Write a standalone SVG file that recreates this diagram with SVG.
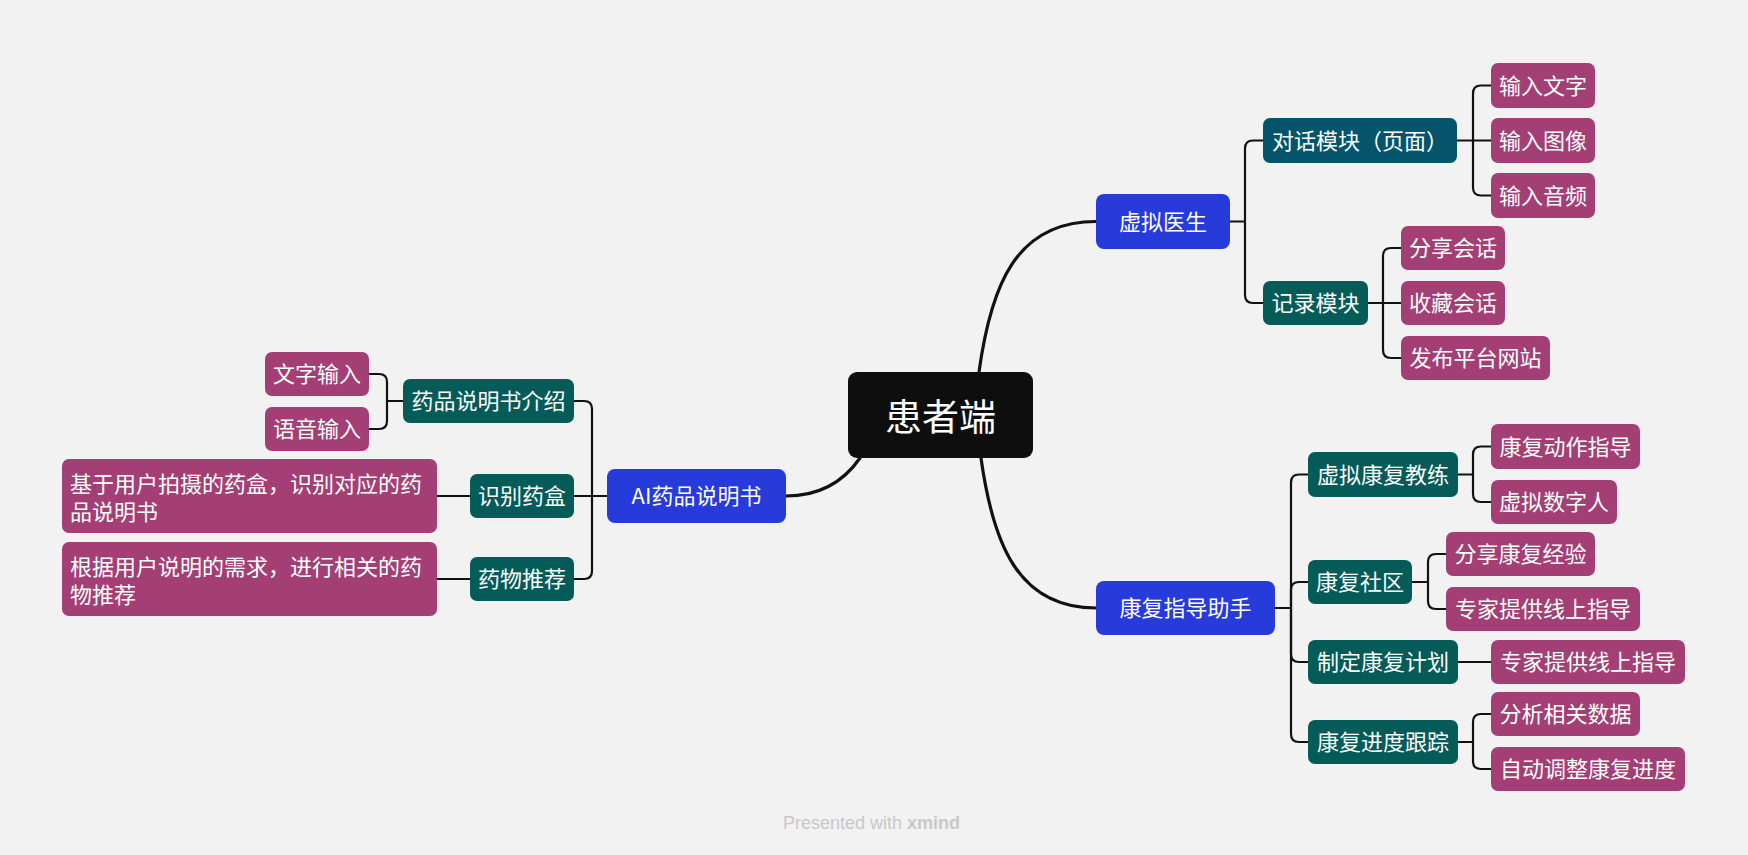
<svg xmlns="http://www.w3.org/2000/svg" width="1748" height="855" viewBox="0 0 1748 855">
<style>
.t{font-family:"Noto Sans CJK SC","Noto Sans",sans-serif;font-size:22px;fill:#ffffff}
.tc{font-family:"Noto Sans CJK SC","Noto Sans",sans-serif;font-size:37px;fill:#ffffff}
.b{fill:#273bdb}
.g{fill:#045b58}
.gb{fill:#04546b}
.m{fill:#a33f74}
.c{fill:#0e0e0e}
.ln{fill:none;stroke:#111111;stroke-width:2.2;stroke-linecap:round}
.lm{fill:none;stroke:#111111;stroke-width:3.2;stroke-linecap:round}
.ft{font-family:"Liberation Sans",Arial,sans-serif;font-size:18px;fill:#c8c8c8}
</style>
<rect x="0" y="0" width="1748" height="855" fill="#f2f2f2"/>
<g id="connectors">
<path class="lm" d="M979,372 C991,285 1016,221.5 1096,221.5"/>
<path class="lm" d="M981,458 C993,544 1018,608 1096,608"/>
<path class="lm" d="M860,458 C842,484 818,496 786,496"/>
<path class="ln" d="M1230,221.5 H1245"/>
<path class="ln" d="M1245,221.5 V148.5 Q1245,140.5 1253,140.5 H1263"/>
<path class="ln" d="M1245,221.5 V295 Q1245,303 1253,303 H1263"/>
<path class="ln" d="M1457,140.5 H1491"/>
<path class="ln" d="M1473,140.5 V93.5 Q1473,85.5 1481,85.5 H1491"/>
<path class="ln" d="M1473,140.5 V187.5 Q1473,195.5 1481,195.5 H1491"/>
<path class="ln" d="M1368,303 H1401"/>
<path class="ln" d="M1383,303 V256 Q1383,248 1391,248 H1401"/>
<path class="ln" d="M1383,303 V350 Q1383,358 1391,358 H1401"/>
<path class="ln" d="M1275,608 H1291"/>
<path class="ln" d="M1291,608 V482.5 Q1291,474.5 1299,474.5 H1308"/>
<path class="ln" d="M1291,608 V590 Q1291,582 1299,582 H1308"/>
<path class="ln" d="M1291,608 V654 Q1291,662 1299,662 H1308"/>
<path class="ln" d="M1291,608 V734 Q1291,742 1299,742 H1308"/>
<path class="ln" d="M1458,474.5 H1473"/>
<path class="ln" d="M1473,474.5 V454.5 Q1473,446.5 1481,446.5 H1491"/>
<path class="ln" d="M1473,474.5 V494 Q1473,502 1481,502 H1491"/>
<path class="ln" d="M1412,582 H1428"/>
<path class="ln" d="M1428,582 V562 Q1428,554 1436,554 H1446"/>
<path class="ln" d="M1428,582 V601 Q1428,609 1436,609 H1446"/>
<path class="ln" d="M1458,662 H1491"/>
<path class="ln" d="M1458,742 H1473"/>
<path class="ln" d="M1473,742 V722 Q1473,714 1481,714 H1491"/>
<path class="ln" d="M1473,742 V761 Q1473,769 1481,769 H1491"/>
<path class="ln" d="M607,496 H592"/>
<path class="ln" d="M592,496 V409 Q592,401 584,401 H574"/>
<path class="ln" d="M592,496 H574"/>
<path class="ln" d="M592,496 V571 Q592,579 584,579 H574"/>
<path class="ln" d="M470,496 H437"/>
<path class="ln" d="M470,579 H437"/>
<path class="ln" d="M403,401 H387"/>
<path class="ln" d="M387,401 V382 Q387,374 379,374 H369"/>
<path class="ln" d="M387,401 V421 Q387,429 379,429 H369"/>
</g>
<g id="root"><rect class="c" x="848" y="372" width="185" height="86" rx="9"/><text class="tc" x="940.5" y="430.5" text-anchor="middle">患者端</text></g>
<g id="n-xnys"><rect class="b" x="1096" y="194" width="134" height="55" rx="8"/><text class="t" x="1163" y="230" text-anchor="middle">虚拟医生</text></g>
<g id="n-kfzd"><rect class="b" x="1096" y="581" width="179" height="54" rx="8"/><text class="t" x="1185.5" y="616.4" text-anchor="middle">康复指导助手</text></g>
<g id="n-ai"><rect class="b" x="607" y="469" width="179" height="54" rx="8"/><text class="t" x="696.5" y="504.4" text-anchor="middle">AI药品说明书</text></g>
<g id="n-dhmk"><rect class="gb" x="1263" y="118" width="194" height="45" rx="7"/><text class="t" x="1360" y="148.9" text-anchor="middle">对话模块（页面）</text></g>
<g id="n-jlmk"><rect class="g" x="1263" y="281" width="105" height="44" rx="7"/><text class="t" x="1315.5" y="311.4" text-anchor="middle">记录模块</text></g>
<g id="n-srwz"><rect class="m" x="1491" y="63" width="104" height="45" rx="7"/><text class="t" x="1543" y="93.9" text-anchor="middle">输入文字</text></g>
<g id="n-srtx"><rect class="m" x="1491" y="118" width="104" height="45" rx="7"/><text class="t" x="1543" y="148.9" text-anchor="middle">输入图像</text></g>
<g id="n-sryp"><rect class="m" x="1491" y="173" width="104" height="45" rx="7"/><text class="t" x="1543" y="203.9" text-anchor="middle">输入音频</text></g>
<g id="n-fxhh"><rect class="m" x="1401" y="226" width="104" height="44" rx="7"/><text class="t" x="1453" y="256.4" text-anchor="middle">分享会话</text></g>
<g id="n-schh"><rect class="m" x="1401" y="281" width="104" height="44" rx="7"/><text class="t" x="1453" y="311.4" text-anchor="middle">收藏会话</text></g>
<g id="n-fbpt"><rect class="m" x="1401" y="336" width="149" height="44" rx="7"/><text class="t" x="1475.5" y="366.4" text-anchor="middle">发布平台网站</text></g>
<g id="n-xnkfjl"><rect class="g" x="1308" y="452" width="150" height="45" rx="7"/><text class="t" x="1383" y="482.9" text-anchor="middle">虚拟康复教练</text></g>
<g id="n-kfsq"><rect class="g" x="1308" y="560" width="104" height="44" rx="7"/><text class="t" x="1360" y="590.4" text-anchor="middle">康复社区</text></g>
<g id="n-zdkfjh"><rect class="g" x="1308" y="640" width="150" height="44" rx="7"/><text class="t" x="1383" y="670.4" text-anchor="middle">制定康复计划</text></g>
<g id="n-kfjdgz"><rect class="g" x="1308" y="720" width="150" height="44" rx="7"/><text class="t" x="1383" y="750.4" text-anchor="middle">康复进度跟踪</text></g>
<g id="n-kfdzzd"><rect class="m" x="1491" y="424" width="149" height="45" rx="7"/><text class="t" x="1565.5" y="454.9" text-anchor="middle">康复动作指导</text></g>
<g id="n-xnszr"><rect class="m" x="1491" y="480" width="126" height="44" rx="7"/><text class="t" x="1554" y="510.4" text-anchor="middle">虚拟数字人</text></g>
<g id="n-fxkfjy"><rect class="m" x="1446" y="532" width="149" height="44" rx="7"/><text class="t" x="1520.5" y="562.4" text-anchor="middle">分享康复经验</text></g>
<g id="n-zjtg1"><rect class="m" x="1446" y="587" width="194" height="44" rx="7"/><text class="t" x="1543" y="617.4" text-anchor="middle">专家提供线上指导</text></g>
<g id="n-zjtg2"><rect class="m" x="1491" y="640" width="194" height="44" rx="7"/><text class="t" x="1588" y="670.4" text-anchor="middle">专家提供线上指导</text></g>
<g id="n-fxxgsj"><rect class="m" x="1491" y="692" width="149" height="44" rx="7"/><text class="t" x="1565.5" y="722.4" text-anchor="middle">分析相关数据</text></g>
<g id="n-zdtz"><rect class="m" x="1491" y="747" width="194" height="44" rx="7"/><text class="t" x="1588" y="777.4" text-anchor="middle">自动调整康复进度</text></g>
<g id="n-ypsms"><rect class="g" x="403" y="379" width="171" height="44" rx="7"/><text class="t" x="488.5" y="409.4" text-anchor="middle">药品说明书介绍</text></g>
<g id="n-sbyh"><rect class="g" x="470" y="474" width="104" height="44" rx="7"/><text class="t" x="522" y="504.4" text-anchor="middle">识别药盒</text></g>
<g id="n-ywtj"><rect class="g" x="470" y="557" width="104" height="44" rx="7"/><text class="t" x="522" y="587.4" text-anchor="middle">药物推荐</text></g>
<g id="n-wzsr"><rect class="m" x="265" y="352" width="104" height="44" rx="7"/><text class="t" x="317" y="382.4" text-anchor="middle">文字输入</text></g>
<g id="n-yysr"><rect class="m" x="265" y="407" width="104" height="44" rx="7"/><text class="t" x="317" y="437.4" text-anchor="middle">语音输入</text></g>
<g id="n-long1"><rect class="m" x="62" y="459" width="375" height="74" rx="7"/><text class="t" x="70" y="491.7">基于用户拍摄的药盒，识别对应的药</text><text class="t" x="70" y="520.1">品说明书</text></g>
<g id="n-long2"><rect class="m" x="62" y="542" width="375" height="74" rx="7"/><text class="t" x="70" y="575.1">根据用户说明的需求，进行相关的药</text><text class="t" x="70" y="603.4">物推荐</text></g>
<text class="ft" x="783" y="829">Presented with <tspan font-weight="bold">xmind</tspan></text>
</svg>
